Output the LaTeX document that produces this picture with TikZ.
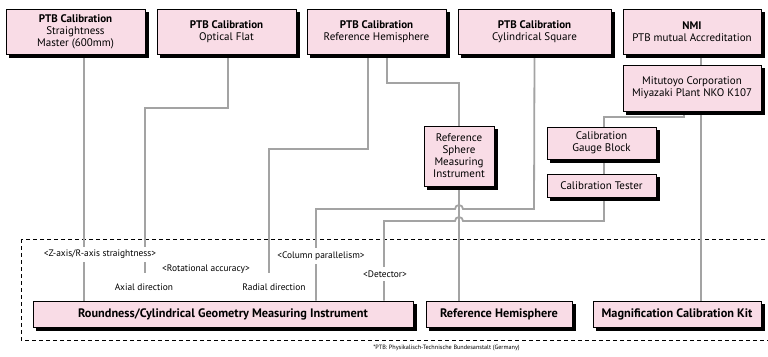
\documentclass[tikz,border=0pt]{standalone}
\usepackage{fontspec}
\setmainfont{PT Sans}
\usepackage{tikz}
\usetikzlibrary{positioning,backgrounds}
\definecolor{softPink}{HTML}{F9DCE6}
\definecolor{wireGray}{HTML}{A3A3A3}
\tikzstyle{boxPink}  =[rectangle,fill=softPink,draw=black,line width=0.6pt,align=center,inner sep=1pt,
                       font=\fontsize{11}{12}\selectfont]
\tikzstyle{boxBase}  =[boxPink,font=\bfseries\fontsize{12.3}{13}\selectfont]
\tikzstyle{boxShade} =[rectangle,fill=black,draw=black,line width=0.6pt,inner sep=0pt]
\tikzstyle{wire}     =[draw=wireGray,line width=1.8pt]
\tikzstyle{tag}      =[fill=white,inner xsep=1pt,inner ysep=3.5pt,font=\fontsize{9.4}{10}\selectfont]
\tikzstyle{tagLow}   =[tag,minimum height=28pt]
% box with its black shadow: name, centre, width, height, style, text
\newcommand{\calnode}[6]{%
  \node[boxShade,minimum width=#3,minimum height=#4] (#1shade) at ([shift={(3,3)}]#2) {};
  \node[#5,minimum width=#3,minimum height=#4] (#1) at (#2) {#6};}

\begin{document}
\begin{tikzpicture}[x=1pt,y=-1pt]
  \useasboundingbox (0,0) rectangle (768,356);
  % calibration sources
  \calnode{ptbA}{75.5,31.5}{139pt}{45pt}{boxPink}{\textbf{PTB Calibration}\\Straightness\\Master (600mm)}
  \calnode{ptbB}{226.5,31.5}{139pt}{45pt}{boxPink}{\textbf{PTB Calibration}\\Optical Flat}
  \calnode{ptbC}{376.5,31.5}{139pt}{45pt}{boxPink}{\textbf{PTB Calibration}\\Reference Hemisphere}
  \calnode{ptbD}{534.5,31.5}{153pt}{45pt}{boxPink}{\textbf{PTB Calibration}\\Cylindrical Square}
  \calnode{nmi}{692,31.5}{138pt}{45pt}{boxPink}{\textbf{NMI}\\PTB mutual Accreditation}
  \calnode{mitutoyo}{692,88}{138pt}{46pt}{boxPink}{Mitutoyo Corporation\\Miyazaki Plant NKO K107}
  \calnode{gauge}{601.5,143}{109pt}{32pt}{boxPink}{Calibration\\Gauge Block}
  \calnode{tester}{601.5,185.5}{109pt}{23pt}{boxPink}{Calibration Tester}
  \calnode{sphere}{459,156}{70pt}{60pt}{boxPink}{Reference\\Sphere\\Measuring\\Instrument}
  % instruments
  \calnode{round}{223,314}{380pt}{26pt}{boxBase}{Roundness/Cylindrical Geometry Measuring Instrument}
  \calnode{hemi}{499,314}{146pt}{26pt}{boxBase}{Reference Hemisphere}
  \calnode{magnif}{677,314}{168pt}{26pt}{boxBase}{Magnification Calibration Kit}

  \begin{scope}[on background layer]
    \draw[line width=0.6pt,dash pattern=on 4pt off 3pt] (21,239) rectangle (775,340);
    \draw[wire] (ptbA.south -| 84,0) -- (round.north -| 84,0);
    \draw[wire] (ptbB.south -| 228,0) -- (228,108) -- (145,108) -- (round.north -| 145,0);
    \draw[wire] (ptbC.south -| 368,0) -- (368,149) -- (269,149) -- (round.north -| 269,0);
    \draw[wire] (ptbC.south -| 387,0) -- (387,83) -- (459,83) -- (sphere.north);
    \draw[wire] (sphere.south) -- (sphere.south |- hemi.north);
    \draw[wire] (ptbD.south) -- (534,209) -- (463,209) arc[start angle=0,end angle=180,radius=4pt]
                -- (316,209) -- (round.north -| 316,0);
    \draw[wire] (nmi.south -| 701,0) -- (mitutoyo.north -| 701,0);
    \draw[wire] (mitutoyo.south -| 684,0) -- (684,117) -- (604,117) -- (gauge.north -| 604,0);
    \draw[wire] (gauge.south -| 604,0) -- (tester.north -| 604,0);
    \draw[wire] (tester.south -| 604,0) -- (604,221) -- (463,221) arc[start angle=0,end angle=180,radius=4pt]
                -- (384,221) -- (round.north -| 384,0);
    \draw[wire] (mitutoyo.south -| 701,0) -- (magnif.north -| 701,0);
  \end{scope}

  % measured items
  \node[tag] (zaxis) at (100,254.5) {<Z-axis/R-axis straightness>};
  \node[tag] (rotary) at (206,269) {<Rotational accuracy>};
  \node[tagLow] (axial) at (144,287) {Axial direction};
  \node[tagLow] (radial) at (274,287) {Radial direction};
  \node[tag] (column) at (321,256) {<Column parallelism>};
  \node[tag] (detector) at (385,274) {<Detector>};
  \node[font=\fontsize{6.2}{7}\selectfont,inner sep=0pt] (note) at (446.5,347.5) {*PTB: Physikalisch-Technische Bundesanstalt (Germany)};
\end{tikzpicture}
\end{document}
